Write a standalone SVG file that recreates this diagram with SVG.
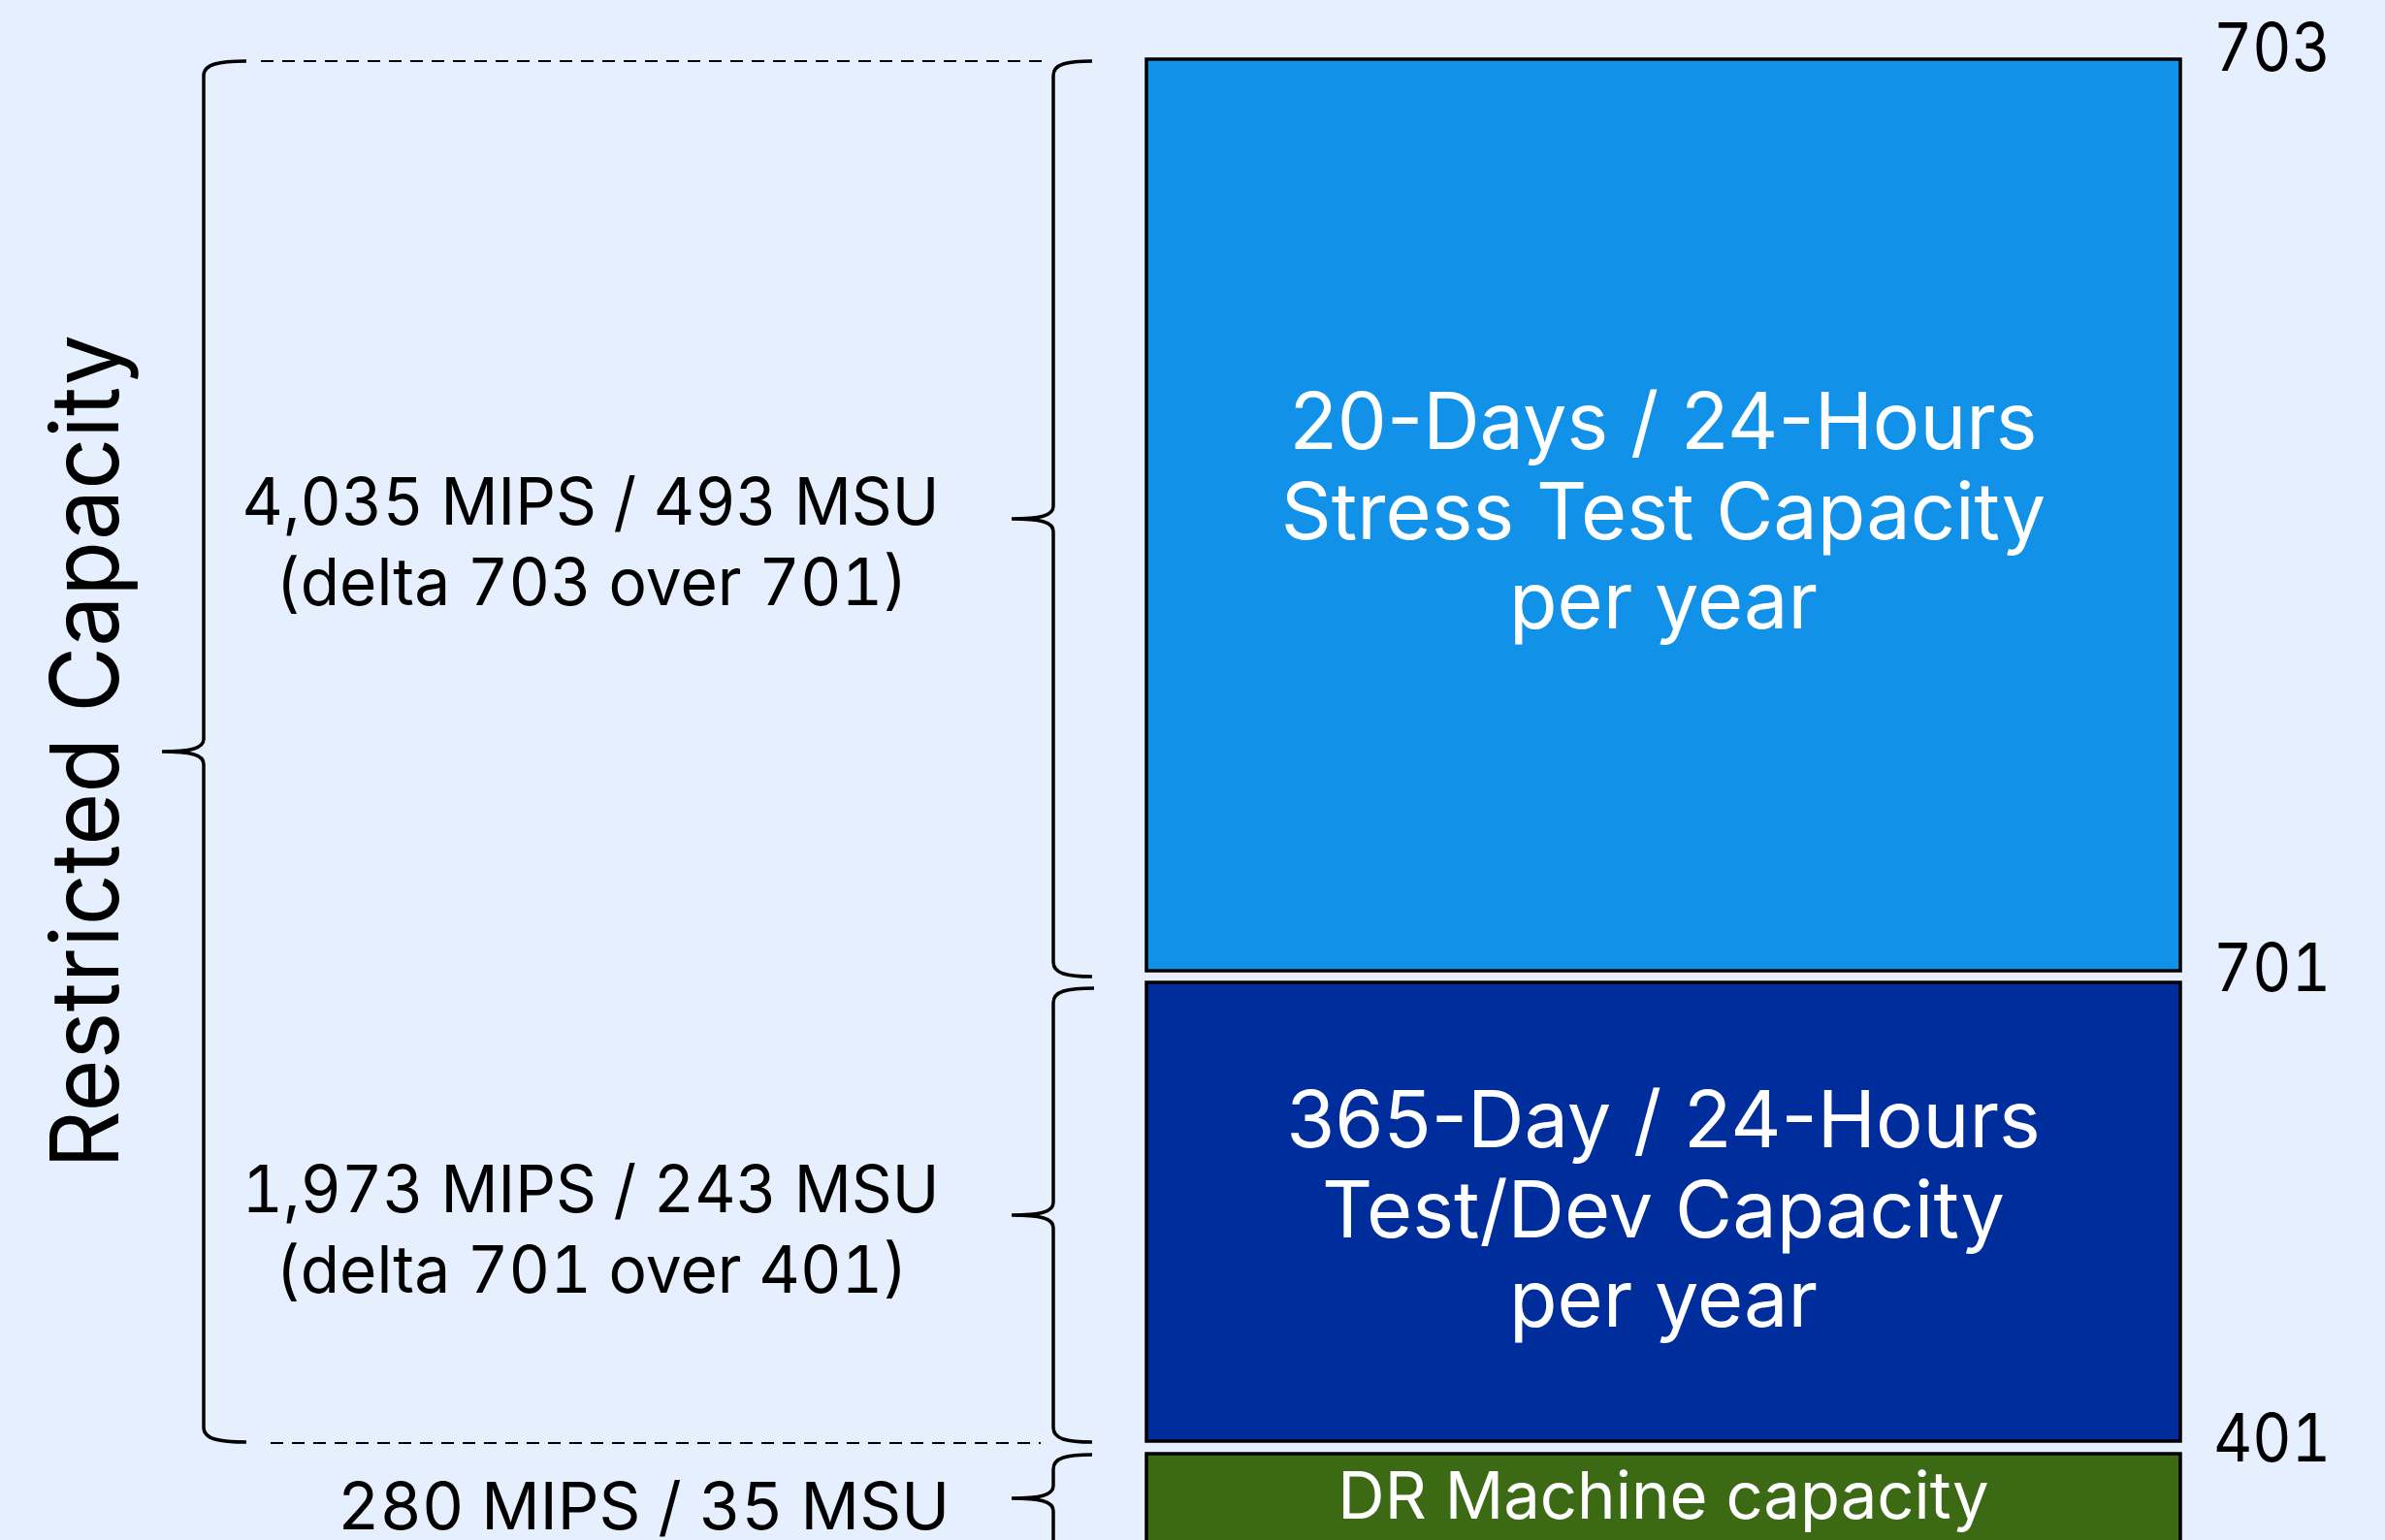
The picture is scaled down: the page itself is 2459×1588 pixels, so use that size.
<svg xmlns="http://www.w3.org/2000/svg" width="2459" height="1588" viewBox="0 0 2459 1588">
<style>
.t{font-family:Inter,"Noto Sans","Liberation Sans",sans-serif;}
.tn{font-variant-numeric:tabular-nums;}
.box{stroke:#000;stroke-width:3.5;}
.br{fill:none;stroke:#000;stroke-width:3.5;stroke-linecap:butt;}
.dash{fill:none;stroke:#000;stroke-width:2;stroke-dasharray:13 9;}
.w{fill:#fff;font-size:81px;text-anchor:middle;}
.lab{fill:#000;font-size:67px;text-anchor:middle;}
.num{fill:#000;font-size:69px;}
</style>
<rect width="2459" height="1588" fill="#E5EFFD"/>
<g id="stress">
<rect class="box" x="1182" y="61" width="1066" height="940" fill="#1192E8"/>
<text class="t w" x="1715" y="463">20-Days / 24-Hours</text>
<text class="t w" x="1715" y="556">Stress Test Capacity</text>
<text class="t w" x="1715" y="648">per year</text>
</g>
<g id="testdev">
<rect class="box" x="1182" y="1013" width="1066" height="473" fill="#002D9C"/>
<text class="t w" x="1715" y="1183">365-Day / 24-Hours</text>
<text class="t w" x="1715" y="1276">Test/Dev Capacity</text>
<text class="t w" x="1715" y="1368">per year</text>
</g>
<g id="dr">
<rect class="box" x="1182" y="1499" width="1066" height="110" fill="#3B6914"/>
<text class="t w" x="1715" y="1566" style="font-size:67px">DR Machine capacity</text>
</g>
<g id="levels">
<text class="t tn num" x="2282" y="73" textLength="121" lengthAdjust="spacingAndGlyphs">703</text>
<text class="t tn num" x="2282" y="1022" textLength="121" lengthAdjust="spacingAndGlyphs">701</text>
<text class="t tn num" x="2282" y="1507" textLength="121" lengthAdjust="spacingAndGlyphs">401</text>
</g>
<g id="labels">
<text class="t tn lab" x="609" y="541" textLength="719" lengthAdjust="spacingAndGlyphs">4,035 MIPS / 493 MSU</text>
<text class="t tn lab" x="610" y="624" textLength="652" lengthAdjust="spacingAndGlyphs">(delta 703 over 701)</text>
<text class="t tn lab" x="609" y="1250" textLength="719" lengthAdjust="spacingAndGlyphs">1,973 MIPS / 243 MSU</text>
<text class="t tn lab" x="610" y="1333" textLength="652" lengthAdjust="spacingAndGlyphs">(delta 701 over 401)</text>
<text class="t tn lab" x="979" y="1577" style="text-anchor:end">280 MIPS / 35 MSU</text>
<text class="t" transform="translate(122,775) rotate(-90)" x="0" y="0" textLength="860" lengthAdjust="spacingAndGlyphs" style="font-size:98px;text-anchor:middle;fill:#000">Restricted Capacity</text>
</g>
<g id="connectors">
<path class="dash" d="M269,63 H1074"/>
<path class="dash" d="M279,1488 H1073"/>
<path class="br" d="M254,63 C226,63 210,66 210,78 L210,762 C210,772 196,775 167,775 C196,775 210,778 210,788 L210,1472 C210,1484 226,1487 254,1487"/>
<path class="br" d="M1126,63 C1100,63 1086,66 1086,78 L1086,522 C1086,532 1072,535 1043,535 C1072,535 1086,538 1086,548 L1086,992 C1086,1004 1100,1007 1126,1007"/>
<path class="br" d="M1128,1019 C1100,1019 1086,1022 1086,1034 L1086,1240 C1086,1250 1072,1253 1043,1253 C1072,1253 1086,1256 1086,1266 L1086,1472 C1086,1484 1100,1487 1126,1487"/>
<path class="br" d="M1126,1500 C1100,1500 1086,1503 1086,1515 L1086,1532 C1086,1542 1072,1545 1043,1545 C1072,1545 1086,1548 1086,1558 L1086,1600"/>
</g>
</svg>
